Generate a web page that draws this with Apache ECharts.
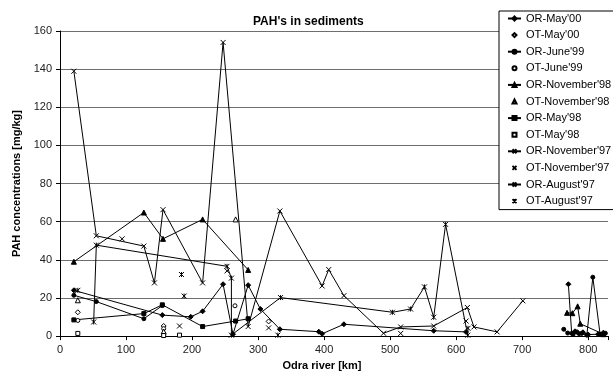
<!DOCTYPE html>
<html>
<head>
<meta charset="utf-8">
<script src="https://cdn.jsdelivr.net/npm/echarts@6/dist/echarts.min.js"></script>
<style>
  html, body { margin: 0; padding: 0; background: #fff; }
  #chart { width: 613px; height: 376px; }
</style>
</head>
<body>
<div id="chart"></div>
<script>
// [km, mg/kg]; null = break in the line
const orMay00 = [[21, 24], [155, 11], [198, 10.1], [216, 13], [247, 27.2], [262, 1], [285, 26.7], [303.5, 14.2], [333, 3.6], [392, 2.3], [397, 1.2], [430, 6.2], [566, 2.8], [615, 2.2], null,
  [770, 27.2], [775, 1.5], [780, 2.5], [786, 1.2], [792, 2], [800, 0.8], [815, 1], [823, 1.8]];
const otMay00 = [[27, 12.5], [157, 5.3], [316, 7.7]];
const orJune99 = [[21, 21.4], [55, 18.1], [127, 9.1], [155, 16], null,
  [763, 3.6], [769, 1.6], [777, 0.8], [783, 2.2], [790, 1.4], [798, 0.5], [807, 30.9], [818, 1], [826, 1.5]];
const otJune99 = [[27, 8.2], [157, 3.9], [265, 15.9]];
const orNov98 = [[21, 39], [127, 64.8], [156, 51], [216, 61.2], [285, 34.7], null,
  [768, 12.2], [776, 12], [784, 15.6], [788, 6.5], [823, 1]];
const otNov98 = [[27, 18.8], [157, 2.4], [266, 61.2]];
const orMay98 = [[21, 8.5], [127, 11.8], [155, 16.4], [216, 5], [266, 7.9], [285, 9.1]];
const otMay98 = [[27, 1.4], [157, 0.3], [181, 0.5]];
const orNov97 = [[21, 138.9], [55, 52.6], [127, 47.2], [143, 27.9], [156, 66.3], [216, 27.9], [247, 154], [285, 5], [333, 65.6],
  [397, 26.3], [407, 34.9], [430, 21.2], [490, 1.5], [516, 4.8], [566, 5.3], [617, 15], [627, 4.8], [662, 2.2], [701, 18.5]];
const otNov97 = [[94, 51], [181, 5.3], [253, 34.2], [316, 4.3], [516, 1.4], [615, 7.9]];
const orAug97 = [[51, 7.4], [55, 47.7], [253, 36.6], [259.6, 30.4], [259.6, 0.5], [334, 20.2], [503.5, 12.5], [531, 14.2],
  [552, 25.8], [566, 9.9], [584, 58.6], [617.6, 0.5]];
const otAug97 = [[27, 24], [184, 32.3], [188, 21], [330, 0.5], [618, 4.1]];

const xTicks = [0, 100, 200, 300, 400, 500, 600, 700, 800];
const yTicks = [0, 20, 40, 60, 80, 100, 120, 140, 160];

const FONT = '"Liberation Sans", Arial, sans-serif';
const X_MARK = 'path://M0,0L10,10M10,0L0,10';
const STAR_MARK = 'path://M0,0L10,10M10,0L0,10M5,0L5,10';

const chart = echarts.init(document.getElementById('chart'), null, { renderer: 'canvas' });

const fix = (arr) => arr.map((p) => (p ? p : ['-', '-']));

// OR = river samples joined by a line, OT = tributaries, markers only
// (OT drawn as a line series with a hidden line so the legend icon stays small)
const mkSeries = (name, data, symbol, size, fill, joined) => ({
  name,
  type: 'line',
  data: fix(data),
  symbol,
  symbolSize: size,
  showAllSymbol: true,
  connectNulls: false,
  lineStyle: { color: '#000', width: 1, opacity: joined ? 1 : 0 },
  itemStyle: { color: fill, borderColor: '#000', borderWidth: 1 },
  emphasis: { disabled: true },
});

const series = [
  mkSeries("OR-May'00", orMay00, 'diamond', 5, '#000', true),
  mkSeries("OT-May'00", otMay00, 'diamond', 5, '#fff', false),
  mkSeries("OR-June'99", orJune99, 'circle', 4, '#000', true),
  mkSeries("OT-June'99", otJune99, 'circle', 4, '#fff', false),
  mkSeries("OR-November'98", orNov98, 'triangle', 5, '#000', true),
  mkSeries("OT-November'98", otNov98, 'triangle', 5, '#fff', false),
  mkSeries("OR-May'98", orMay98, 'rect', 4, '#000', true),
  mkSeries("OT-May'98", otMay98, 'rect', 4, '#fff', false),
  mkSeries("OR-November'97", orNov97, X_MARK, 5, '#000', true),
  mkSeries("OT-November'97", otNov97, X_MARK, 5, '#000', false),
  mkSeries("OR-August'97", orAug97, STAR_MARK, 5, '#000', true),
  mkSeries("OT-August'97", otAug97, STAR_MARK, 5, '#000', false),
];

const option = {
  animation: false,
  backgroundColor: '#fff',
  textStyle: { fontFamily: FONT },
  title: {
    text: "PAH's in sediments",
    left: 253,
    top: 16,
    padding: 0,
    textStyle: { fontFamily: FONT, fontSize: 12, fontWeight: 'bold', color: '#000' },
  },
  grid: { left: 60, right: 5, top: 31, bottom: 33, containLabel: false },
  legend: {
    orient: 'vertical',
    left: 499,
    top: 11,
    padding: [1.5, 20, 2.5, 8],
    itemGap: 4.6,
    itemWidth: 13,
    itemHeight: 5,
    borderColor: '#000',
    borderWidth: 1,
    borderRadius: 0,
    backgroundColor: '#fff',
    selectedMode: false,
    textStyle: { fontFamily: FONT, fontSize: 11, color: '#000', lineHeight: 12 },
    data: series.map((s) => s.name),
  },
  xAxis: {
    type: 'value',
    min: xTicks[0],
    max: 830,
    interval: 100,
    name: 'Odra river [km]',
    nameLocation: 'middle',
    nameGap: 22,
    nameTextStyle: { fontFamily: FONT, fontSize: 11, fontWeight: 'bold', color: '#000', padding: [0, 24, 0, 0] },
    axisLine: { lineStyle: { color: '#000', width: 1 } },
    axisTick: { show: true, inside: false, length: 4, lineStyle: { color: '#000' } },
    axisLabel: {
      fontFamily: FONT, fontSize: 11, color: '#222', margin: 8,
      formatter: (v) => (xTicks.includes(v) ? String(v) : ''),
    },
    splitLine: { show: false },
  },
  yAxis: {
    type: 'value',
    min: yTicks[0],
    max: yTicks[yTicks.length - 1],
    interval: 20,
    name: 'PAH concentrations [mg/kg]',
    nameLocation: 'middle',
    nameGap: 38,
    nameTextStyle: { fontFamily: FONT, fontSize: 11, fontWeight: 'bold', color: '#000' },
    axisLine: { show: true, lineStyle: { color: '#000', width: 1 } },
    axisTick: { show: true, inside: false, length: 4, lineStyle: { color: '#000' } },
    axisLabel: { fontFamily: FONT, fontSize: 11, color: '#222', margin: 8 },
    splitLine: { show: true, lineStyle: { color: '#6e6e6e', width: 1 } },
  },
  series,
};

chart.setOption(option);
</script>
</body>
</html>
